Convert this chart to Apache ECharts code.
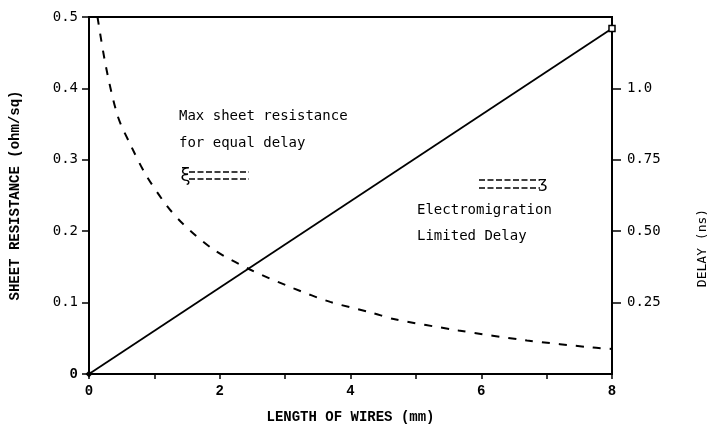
<!DOCTYPE html>
<html>
<head>
<meta charset="utf-8">
<script src="https://cdn.jsdelivr.net/npm/echarts@6/dist/echarts.min.js"></script>
<style>
  html, body { margin: 0; padding: 0; background: #fff; }
  #chart { width: 708px; height: 429px; }
</style>
</head>
<body>
<div id="chart"></div>
<script>
// Wire length (mm) sampled along the sheet-resistance curve
const wireLength = [0.13, 0.26, 0.44, 0.64, 0.87, 1.18, 1.44, 1.91, 2.47, 3.13, 3.69, 4.34, 4.66, 5.65, 6.70, 7.71, 8.0];
// Maximum sheet resistance (ohm/sq) for equal delay
const sheetResistance = [0.500, 0.430, 0.361, 0.320, 0.279, 0.237, 0.210, 0.174, 0.146, 0.120, 0.101, 0.0855, 0.077, 0.061, 0.047, 0.037, 0.035];
// Electromigration limited delay (ns) — linear in wire length
const delayLength = [0, 8];
const delayNs = [0, 1.21];
// Tick labels
const xTickLabels = { 0: '0', 2: '2', 4: '4', 6: '6', 8: '8' };
const delayTickLabels = { 0.25: '0.25', 0.5: '0.50', 0.75: '0.75', 1: '1.0' };

const MONO = '"DejaVu Sans Mono", "Liberation Mono", monospace';
const TYPE = '"Liberation Mono", "DejaVu Sans Mono", monospace';

const chart = echarts.init(document.getElementById('chart'));

const resData = wireLength.map((x, i) => [x, sheetResistance[i]]);
const delayData = delayLength.map((x, i) => [x, delayNs[i]]);
delayData[0] = { value: delayData[0], symbol: 'diamond', symbolSize: 7, itemStyle: { color: '#000' } };
delayData[1] = { value: delayData[1], symbol: 'rect', symbolSize: 6, itemStyle: { color: '#fff', borderColor: '#000', borderWidth: 1.5 } };

chart.setOption({
  animation: false,
  backgroundColor: '#fff',
  grid: {
    left: 88, right: 96, top: 17, bottom: 50,
    show: true, borderColor: '#000', borderWidth: 2, backgroundColor: 'transparent'
  },
  xAxis: {
    type: 'value', min: 0, max: 8, interval: 1,
    name: 'LENGTH OF WIRES (mm)',
    nameLocation: 'middle', nameGap: 36,
    nameTextStyle: { fontFamily: TYPE, fontWeight: 'bold', fontSize: 14, color: '#000' },
    axisLine: { show: true, lineStyle: { color: '#000', width: 2 } },
    axisTick: { show: true, inside: false, length: 5, lineStyle: { color: '#000', width: 1.5 } },
    axisLabel: {
      margin: 10, color: '#000', fontFamily: TYPE, fontWeight: 'bold', fontSize: 14,
      formatter: v => xTickLabels[v] !== undefined ? xTickLabels[v] : ''
    },
    splitLine: { show: false }
  },
  yAxis: [
    {
      type: 'value', min: 0, max: 0.5, interval: 0.1, position: 'left',
      name: 'SHEET RESISTANCE (ohm/sq)',
      nameLocation: 'middle', nameGap: 67, nameRotate: 90,
      nameTextStyle: { fontFamily: TYPE, fontWeight: 'bold', fontSize: 14, color: '#000' },
      axisLine: { show: true, lineStyle: { color: '#000', width: 2 } },
      axisTick: { show: true, length: 7, lineStyle: { color: '#000', width: 1.5 } },
      axisLabel: {
        margin: 11, color: '#000', fontFamily: MONO, fontSize: 14,
        formatter: v => v === 0 ? '{z|0}' : v.toFixed(1),
        rich: { z: { fontFamily: TYPE, fontWeight: 'bold', fontSize: 14, color: '#000' } }
      },
      splitLine: { show: false }
    },
    {
      type: 'value', min: 0, max: 1.25, interval: 0.25, position: 'right',
      axisLine: { show: true, lineStyle: { color: '#000', width: 2 } },
      axisTick: {
        show: true, length: 9, lineStyle: { color: '#000', width: 1.5 },
        customValues: [0.25, 0.5, 0.75, 1]
      },
      axisLabel: {
        margin: 15, color: '#000', fontFamily: MONO, fontSize: 14,
        customValues: [0.25, 0.5, 0.75, 1],
        formatter: v => delayTickLabels[v] || ''
      },
      splitLine: { show: false }
    }
  ],
  series: [
    {
      name: 'Max sheet resistance for equal delay',
      type: 'line', yAxisIndex: 0, data: resData,
      smooth: 0.3, showSymbol: false, symbol: 'none',
      lineStyle: { color: '#000', width: 2, type: [8, 9] }
    },
    {
      name: 'Electromigration Limited Delay',
      type: 'line', yAxisIndex: 1, data: delayData,
      showSymbol: true, symbol: 'rect',
      lineStyle: { color: '#000', width: 1.8 }
    }
  ],
  graphic: [
    { type: 'text', x: 179, y: 116, style: { text: 'Max sheet resistance', font: '14px ' + MONO, fill: '#000', verticalAlign: 'middle' } },
    { type: 'text', x: 179, y: 143, style: { text: 'for equal delay', font: '14px ' + MONO, fill: '#000', verticalAlign: 'middle' } },
    { type: 'text', x: 417, y: 210, style: { text: 'Electromigration', font: '14px ' + MONO, fill: '#000', verticalAlign: 'middle' } },
    { type: 'text', x: 417, y: 236, style: { text: 'Limited Delay', font: '14px ' + MONO, fill: '#000', verticalAlign: 'middle' } },
    // left-pointing double dashed arrow
    { type: 'text', x: 180, y: 176, style: { text: 'ξ', font: '18px ' + MONO, fill: '#000', verticalAlign: 'middle' } },
    { type: 'line', shape: { x1: 189, y1: 172, x2: 249, y2: 172 }, style: { stroke: '#000', lineWidth: 1.5, lineDash: [6, 2.5] } },
    { type: 'line', shape: { x1: 189, y1: 179, x2: 249, y2: 179 }, style: { stroke: '#000', lineWidth: 1.5, lineDash: [6, 2.5] } },
    // right-pointing double dashed arrow
    { type: 'line', shape: { x1: 479, y1: 180, x2: 540, y2: 180 }, style: { stroke: '#000', lineWidth: 1.5, lineDash: [6, 2.5] } },
    { type: 'line', shape: { x1: 479, y1: 188, x2: 540, y2: 188 }, style: { stroke: '#000', lineWidth: 1.5, lineDash: [6, 2.5] } },
    { type: 'text', x: 538, y: 184, style: { text: 'ʒ', font: '16px ' + MONO, fill: '#000', verticalAlign: 'middle' } },
    // right axis title
    { type: 'text', x: 703, y: 248, rotation: Math.PI / 2, style: { text: 'DELAY (ns)', font: '13px ' + MONO, fill: '#000', align: 'center', verticalAlign: 'middle' } }
  ]
});
</script>
</body>
</html>
